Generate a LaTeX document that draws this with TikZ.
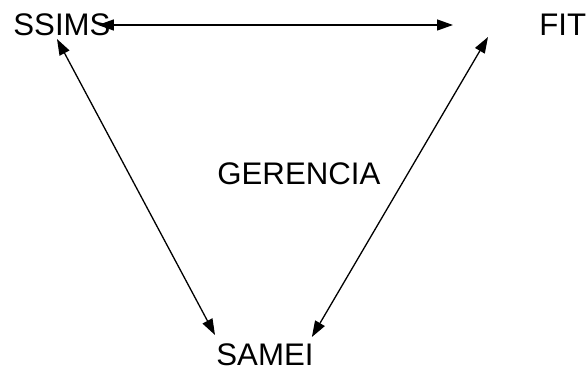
\documentclass[tikz,border=0pt]{standalone}
\usepackage{fontspec}
\setmainfont{Liberation Sans}
\usetikzlibrary{arrows.meta, positioning, calc}

\begin{document}
\begin{tikzpicture}[x=1pt, y=-1pt, thick,
    lbl/.style={inner sep=0pt, anchor=base west, font=\fontsize{31.2}{37}\selectfont},
    link/.style={line width=1.3pt, {Triangle[length=16pt,width=11pt]}-{Triangle[length=16pt,width=11pt]}}]
        \useasboundingbox (0,0) rectangle (587,371);

        % Nodes
        \node (SSIMS) [lbl] at (13,36) {SSIMS};
        \node (FIT) [lbl] at (539,36) {FIT};
        \node (Gerencia) [lbl] at (217,185) {GERENCIA};
        \node (SAMEI) [lbl] at (216,366) {SAMEI};

        % Links between the three
        \draw[link] ($(SSIMS.base east)+(-13,-11)$) -- ($(FIT.base west)+(-86,-11)$);
        \draw[link] ($(SSIMS.base west)+(44,3)$) -- ($(SAMEI.base west)+(-1,-31)$);
        \draw[link] ($(FIT.base west)+(-51,1)$) -- ($(SAMEI.base east)+(-2,-29)$);
    \end{tikzpicture}
\end{document}
